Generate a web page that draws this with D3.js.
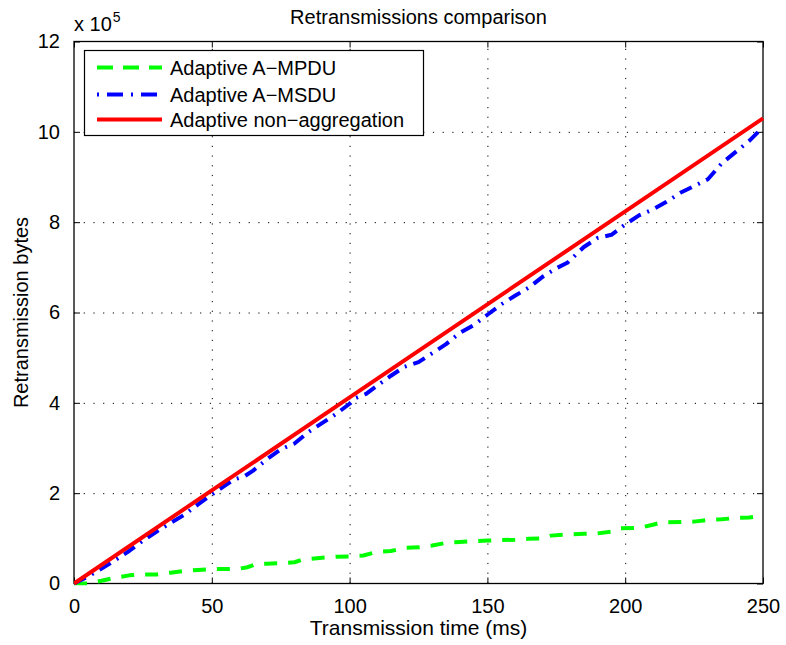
<!DOCTYPE html>
<html>
<head>
<meta charset="utf-8">
<script src="https://cdn.jsdelivr.net/npm/d3@7"></script>
<style>
  html, body { margin: 0; padding: 0; background: #fff; }
  svg { display: block; font-family: "Liberation Sans", Arial, Helvetica, sans-serif; }
</style>
</head>
<body>
<svg id="chart" width="786" height="645"></svg>
<script>
// Retransmitted bytes (in units of 1e5) over transmission time (ms)
const mpduTime = [0, 5, 10, 15, 20, 25, 30, 35, 40, 45, 50, 55, 60, 63, 66, 70, 75, 80, 83, 90, 95, 100, 105, 110, 115, 120, 125, 130, 135, 140, 145, 150, 155, 160, 165, 170, 173, 180, 185, 190, 195, 198, 205, 210, 213, 220, 225, 230, 235, 240, 245, 250];
const mpduBytes = [0, 0, 0.06, 0.13, 0.18, 0.2, 0.2, 0.24, 0.28, 0.3, 0.32, 0.32, 0.33, 0.36, 0.43, 0.44, 0.45, 0.47, 0.53, 0.57, 0.59, 0.6, 0.62, 0.7, 0.72, 0.79, 0.8, 0.84, 0.9, 0.92, 0.94, 0.95, 0.96, 0.97, 0.99, 1.0, 1.06, 1.09, 1.1, 1.11, 1.15, 1.22, 1.23, 1.3, 1.35, 1.36, 1.37, 1.41, 1.42, 1.45, 1.46, 1.51];

const msduTime = [0, 5, 10, 15, 20, 25, 30, 35, 40, 45, 50, 55, 58, 62, 65, 70, 75, 80, 85, 90, 95, 100, 102, 106, 110, 115, 120, 125, 130, 135, 140, 145, 150, 155, 160, 165, 170, 175, 179, 185, 190, 195, 200, 205, 210, 215, 220, 225, 230, 235, 240, 245, 250];
const msduBytes = [0, 0.15, 0.33, 0.52, 0.72, 0.95, 1.15, 1.34, 1.52, 1.75, 1.97, 2.18, 2.3, 2.38, 2.5, 2.75, 2.97, 3.1, 3.35, 3.55, 3.75, 3.98, 4.1, 4.2, 4.38, 4.6, 4.8, 4.9, 5.1, 5.3, 5.55, 5.72, 5.95, 6.18, 6.37, 6.55, 6.79, 6.98, 7.1, 7.45, 7.65, 7.72, 7.95, 8.15, 8.28, 8.45, 8.65, 8.8, 8.95, 9.3, 9.55, 9.8, 10.1];

const noAggTime = [0, 50, 100, 150, 200, 250];
const noAggBytes = [0, 2.06, 4.12, 6.18, 8.24, 10.3];

const xTicks = [0, 50, 100, 150, 200, 250];
const yTicks = [0, 2, 4, 6, 8, 10, 12];

const seriesNames = ["Adaptive A\u2212MPDU", "Adaptive A\u2212MSDU", "Adaptive non\u2212aggregation"];
const seriesColors = ["#00ff00", "#0000ff", "#ff0000"];
const seriesDashes = ["13,11", "13,7,2,7", null];

const svg = d3.select("#chart");
const plotLeft = 74, plotRight = 763, plotTop = 41.5, plotBottom = 583.5;

const x = d3.scaleLinear().domain([0, 250]).range([plotLeft, plotRight]);
const y = d3.scaleLinear().domain([0, 12]).range([plotBottom, plotTop]);

// Dotted grid
const grid = svg.append("g").attr("stroke", "#000").attr("stroke-width", 1)
  .attr("stroke-dasharray", "1.2,8.5");
grid.selectAll(".gx").data(xTicks.slice(1, -1)).join("line")
  .attr("x1", d => x(d) + 0.5).attr("x2", d => x(d) + 0.5)
  .attr("y1", plotBottom).attr("y2", plotTop);
grid.selectAll(".gy").data(yTicks.slice(1, -1)).join("line")
  .attr("y1", d => y(d) + 0.5).attr("y2", d => y(d) + 0.5)
  .attr("x1", plotLeft).attr("x2", plotRight);

// Axes with inward ticks on all four sides
const tickLen = 6;
const axB = svg.append("g").attr("transform", `translate(0,${plotBottom})`)
  .call(d3.axisBottom(x).tickValues(xTicks).tickSizeInner(-tickLen).tickSizeOuter(0).tickPadding(15));
const axT = svg.append("g").attr("transform", `translate(0,${plotTop})`)
  .call(d3.axisTop(x).tickValues(xTicks).tickSizeInner(-tickLen).tickSizeOuter(0).tickFormat(""));
const axL = svg.append("g").attr("transform", `translate(${plotLeft},0)`)
  .call(d3.axisLeft(y).tickValues(yTicks).tickSizeInner(-tickLen).tickSizeOuter(0).tickPadding(14)
    .tickFormat(d => d));
const axR = svg.append("g").attr("transform", `translate(${plotRight},0)`)
  .call(d3.axisRight(y).tickValues(yTicks).tickSizeInner(-tickLen).tickSizeOuter(0).tickFormat(""));
[axB, axT, axL, axR].forEach(g => {
  g.select(".domain").remove();
  g.selectAll("line").attr("stroke", "#000").attr("stroke-width", 1);
  g.selectAll("text").attr("fill", "#000").attr("font-size", 20)
    .attr("font-family", "'Liberation Sans', Arial, Helvetica, sans-serif");
});
axB.selectAll("text").attr("dy", "0.71em");

// Plot frame
svg.append("rect").attr("x", plotLeft).attr("y", plotTop)
  .attr("width", plotRight - plotLeft).attr("height", plotBottom - plotTop)
  .attr("fill", "none").attr("stroke", "#000").attr("stroke-width", 1.3);

// Data lines
svg.append("clipPath").attr("id", "plotClip").append("rect")
  .attr("x", plotLeft).attr("y", plotTop - 2).attr("width", plotRight - plotLeft + 1).attr("height", plotBottom - plotTop + 4);

const series = [
  { t: mpduTime, v: mpduBytes },
  { t: msduTime, v: msduBytes },
  { t: noAggTime, v: noAggBytes }
];
const line = d3.line().x(d => x(d[0])).y(d => y(d[1]));
const lines = svg.append("g").attr("clip-path", "url(#plotClip)");
series.forEach((s, i) => {
  lines.append("path")
    .attr("d", line(d3.zip(s.t, s.v)))
    .attr("fill", "none")
    .attr("stroke", seriesColors[i])
    .attr("stroke-width", 4)
    .attr("stroke-linejoin", "round")
    .attr("stroke-dasharray", seriesDashes[i]);
});

// Titles and labels
svg.append("text").attr("x", (plotLeft + plotRight) / 2).attr("y", 24)
  .attr("text-anchor", "middle").attr("font-size", 20).text("Retransmissions comparison");
svg.append("text").attr("x", (plotLeft + plotRight) / 2).attr("y", 635)
  .attr("text-anchor", "middle").attr("font-size", 21).text("Transmission time (ms)");
svg.append("text").attr("transform", `translate(28,${(plotTop + plotBottom) / 2}) rotate(-90)`)
  .attr("text-anchor", "middle").attr("font-size", 20).text("Retransmission bytes");

// Exponent label
const expo = svg.append("text").attr("x", 74).attr("y", 31).attr("font-size", 20);
expo.append("tspan").text("x 10");
expo.append("tspan").attr("font-size", 14).attr("dy", -9).attr("dx", 1).text("5");

// Legend
const legend = svg.append("g");
legend.append("rect").attr("x", 84.5).attr("y", 50.5).attr("width", 339).attr("height", 85)
  .attr("fill", "#fff").attr("stroke", "#000").attr("stroke-width", 1.2);
const rowY = [67.5, 94.5, 119.5];
seriesNames.forEach((name, i) => {
  legend.append("line").attr("x1", 97).attr("x2", 162).attr("y1", rowY[i]).attr("y2", rowY[i])
    .attr("stroke", seriesColors[i]).attr("stroke-width", 4)
    .attr("stroke-dasharray", i === 0 ? "16,10" : (i === 1 ? "2,8,16,8" : null));
  legend.append("text").attr("x", 170).attr("y", rowY[i] + 7).attr("font-size", 20).text(name);
});
</script>
</body>
</html>
